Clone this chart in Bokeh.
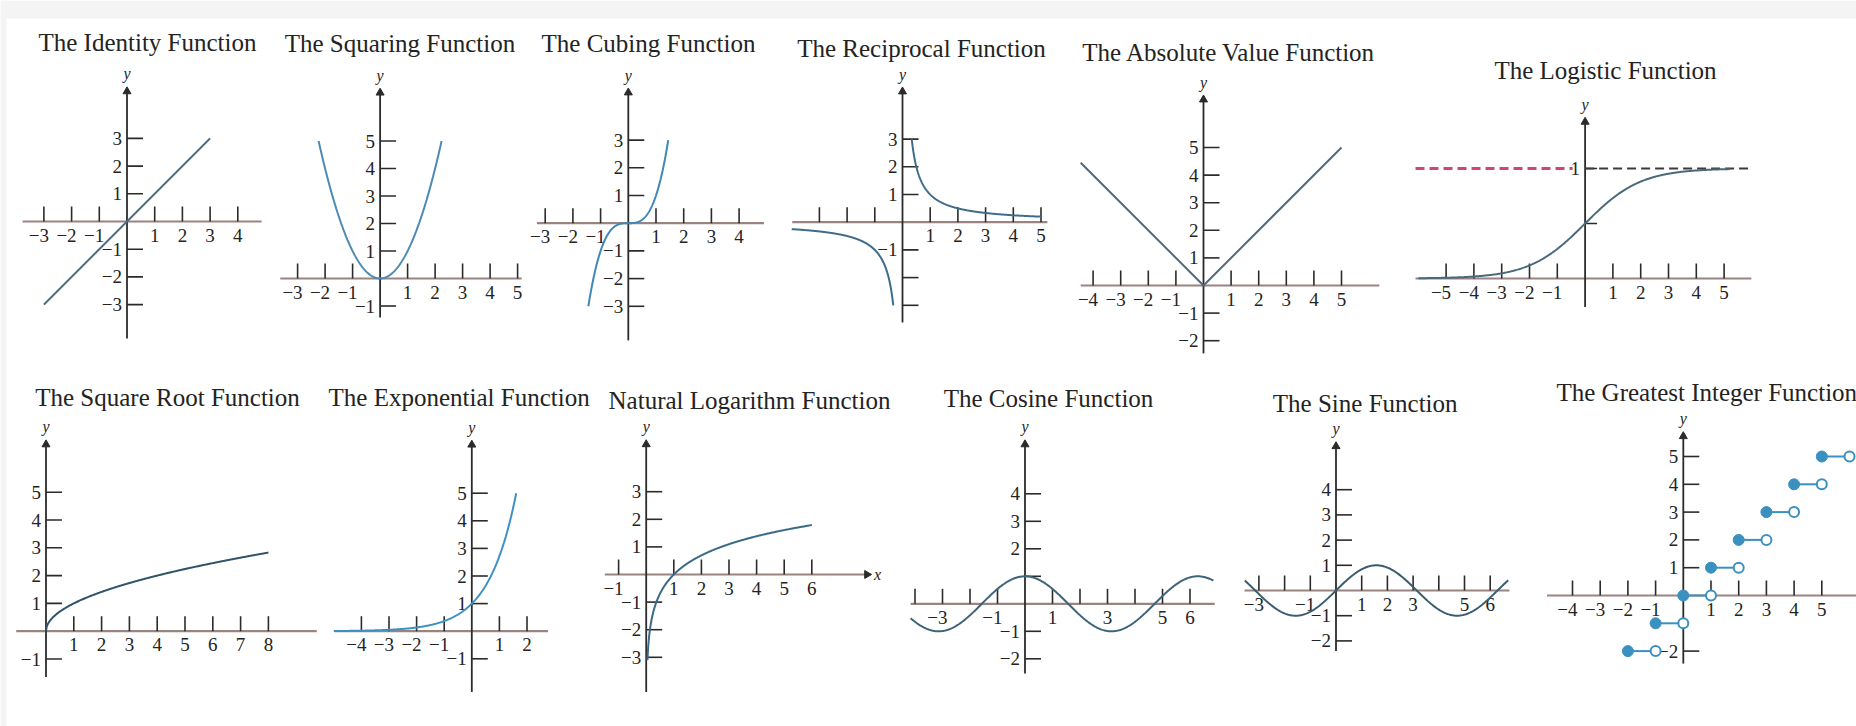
import numpy as np
from bokeh.plotting import figure
from bokeh.models import Range1d, BoxAnnotation
from bokeh.embed import file_html
from bokeh.resources import INLINE
from bokeh.core.properties import value

# ---------------- data ----------------
TITLES = ["The Identity Function", "The Squaring Function", "The Cubing Function",
          "The Reciprocal Function", "The Absolute Value Function", "The Logistic Function",
          "The Square Root Function", "The Exponential Function", "Natural Logarithm Function",
          "The Cosine Function", "The Sine Function", "The Greatest Integer Function"]

CURVE_FUNCS = ["identity", "square", "cube", "reciprocal", "abs", "logistic",
               "sqrt", "exp", "ln", "cos", "sin", "floor"]

# plotted domain of each curve
DOMAINS = [[(-3, 3)], [(-2.236, 2.236)], [(-1.442, 1.442)], [(-4, -0.333), (0.333, 5)],
           [(-4.45, 5.0)], [(-6, 5.2)], [(0, 8)], [(-5, 1.609)], [(0.045, 6)],
           [(-4.16, 6.85)], [(-3.55, 6.7)], [(-2, 5)]]

X_TICKS = [
    [-3, -2, -1, 1, 2, 3, 4],
    [-3, -2, -1, 1, 2, 3, 4, 5],
    [-3, -2, -1, 1, 2, 3, 4],
    [-3, -2, -1, 1, 2, 3, 4, 5],
    [-4, -3, -2, -1, 1, 2, 3, 4, 5],
    [-5, -4, -3, -2, -1, 1, 2, 3, 4, 5],
    [1, 2, 3, 4, 5, 6, 7, 8],
    [-4, -3, -2, -1, 1, 2],
    [-1, 1, 2, 3, 4, 5, 6],
    [-4, -3, -2, -1, 1, 2, 3, 4, 5, 6],
    [-3, -2, -1, 1, 2, 3, 4, 5, 6],
    [-4, -3, -2, -1, 1, 2, 3, 4, 5],
]
X_LABELS = [
    ["−3", "−2", "−1", "1", "2", "3", "4"],
    ["−3", "−2", "−1", "1", "2", "3", "4", "5"],
    ["−3", "−2", "−1", "1", "2", "3", "4"],
    ["", "", "", "1", "2", "3", "4", "5"],
    ["−4", "−3", "−2", "−1", "1", "2", "3", "4", "5"],
    ["−5", "−4", "−3", "−2", "−1", "1", "2", "3", "4", "5"],
    ["1", "2", "3", "4", "5", "6", "7", "8"],
    ["−4", "−3", "−2", "−1", "1", "2"],
    ["−1", "1", "2", "3", "4", "5", "6"],
    ["", "−3", "", "−1", "1", "", "3", "", "5", "6"],
    ["−3", "", "−1", "1", "2", "3", "", "5", "6"],
    ["−4", "−3", "−2", "−1", "1", "2", "3", "4", "5"],
]
Y_TICKS = [
    [-3, -2, -1, 1, 2, 3],
    [-1, 1, 2, 3, 4, 5],
    [-3, -2, -1, 1, 2, 3],
    [-3, -2, -1, 1, 2, 3],
    [-2, -1, 1, 2, 3, 4, 5],
    [0.5, 1],
    [-1, 1, 2, 3, 4, 5],
    [-1, 1, 2, 3, 4, 5],
    [-3, -2, -1, 1, 2, 3],
    [-2, -1, 1, 2, 3, 4],
    [-2, -1, 1, 2, 3, 4],
    [-2, 1, 2, 3, 4, 5],
]
Y_LABELS = [
    ["−3", "−2", "−1", "1", "2", "3"],
    ["−1", "1", "2", "3", "4", "5"],
    ["−3", "−2", "−1", "1", "2", "3"],
    ["", "", "−1", "1", "2", "3"],
    ["−2", "−1", "1", "2", "3", "4", "5"],
    ["", "1"],
    ["−1", "1", "2", "3", "4", "5"],
    ["−1", "1", "2", "3", "4", "5"],
    ["−3", "−2", "−1", "1", "2", "3"],
    ["−2", "−1", "", "2", "3", "4"],
    ["−2", "−1", "1", "2", "3", "4"],
    ["−2", "1", "2", "3", "4", "5"],
]

# greatest integer function steps
STEP_LEVELS = [-2, -1, 0, 1, 2, 3, 4, 5]
# logistic asymptote
ASYMPTOTE = 1

CURVE_COLORS = ["#4f6b7e", "#4d8ab3", "#3f88b8", "#3e6c8a", "#4f6b7e", "#4a6a7c",
                "#2f5469", "#3b90c4", "#3a6a86", "#3f6479", "#3a5d70", "#3a90bf"]

# ---------------- layout (pixel positions in the 1856x726 picture) ----------------
# origin x, origin y, px per x unit, px per y unit
ORIGINS = [(126.5, 221, 27.7, 27.7), (379.6, 278, 27.5, 27.5), (627.8, 222.7, 27.7, 27.7),
           (902, 221.7, 27.7, 27.7), (1203, 285, 27.6, 27.6), (1584.6, 278, 27.8, 110),
           (45.5, 630.7, 27.8, 27.8), (471.3, 630.7, 27.6, 27.6), (645.7, 574, 27.6, 27.6),
           (1024.5, 603.3, 27.5, 27.5), (1335.5, 590, 25.7, 25.2), (1682.8, 595, 27.7, 27.8)]
# x-axis extent, y-axis extent in panel units
X_EXT = [(-3.77, 4.86), (-3.63, 5.15), (-3.3, 4.9), (-3.98, 5.23), (-4.45, 6.37), (-6.1, 5.98),
         (-1.07, 9.74), (-4.97, 2.76), (-1.5, 8.0), (-4.16, 6.9), (-3.56, 6.75), (-4.92, 6.5)]
Y_EXT = [(-4.22, 4.84), (-1.42, 6.9), (-4.23, 4.86), (-3.62, 4.86), (-2.46, 6.88), (-0.26, 1.46),
         (-1.65, 6.86), (-2.2, 6.9), (-4.26, 4.86), (-2.53, 5.94), (-2.4, 5.88), (-2.45, 5.87)]
TITLE_POS = [(147, 42), (399.5, 43), (648, 43), (921, 48), (1228.6, 52), (1605, 70),
             (167, 397), (458.6, 397), (749, 400), (1048, 398), (1364.7, 403), (1556, 392)]
TITLE_ALIGN = ["center"] * 11 + ["left"]

W, H = 1856, 726
OFF = 0
FONT = value("Liberation Serif")
TXT = "#232323"
AX = "#2b2b2b"
XAX = "#9a8481"

p = figure(width=W, height=H, output_backend="svg", toolbar_location=None,
           x_range=Range1d(0, W), y_range=Range1d(H, 0), min_border=0,
           x_axis_type=None, y_axis_type=None)
p.grid.visible = False
p.outline_line_color = None
p.background_fill_color = "white"
p.border_fill_color = "white"
p.add_layout(BoxAnnotation(left=0, right=W, bottom=0, top=18, fill_color="#f4f4f4",
                           fill_alpha=1, line_color=None))
p.add_layout(BoxAnnotation(left=0, right=6, bottom=0, top=H, fill_color="#f4f4f4",
                           fill_alpha=1, line_color=None))


def curve(name, a, b):
    x = np.linspace(a, b, 400)
    if name == "identity":
        y = x
    elif name == "square":
        y = x ** 2
    elif name == "cube":
        y = x ** 3
    elif name == "reciprocal":
        y = 1.0 / x
    elif name == "abs":
        x = np.array([a, 0.0, b]); y = np.abs(x)
    elif name == "logistic":
        y = 1.0 / (1.0 + np.exp(-x))
    elif name == "sqrt":
        y = np.sqrt(x)
    elif name == "exp":
        y = np.exp(x)
    elif name == "ln":
        x = np.geomspace(a, b, 400); y = np.log(x)
    elif name == "cos":
        y = np.cos(x)
    elif name == "sin":
        y = np.sin(x)
    return x, y


for i in range(12):
    ox, oy, ux, uy = ORIGINS[i]
    fx, fy = ox - OFF, oy - OFF
    xr, yr = f"px{i}", f"py{i}"
    p.extra_x_ranges[xr] = Range1d(-fx / ux, (W - fx) / ux)
    p.extra_y_ranges[yr] = Range1d(-(H - fy) / uy, fy / uy)
    kw = dict(x_range_name=xr, y_range_name=yr)
    (xa, xb), (ya, yb) = X_EXT[i], Y_EXT[i]

    # axes
    p.segment(x0=[xa], y0=[0], x1=[xb], y1=[0], line_color=XAX, line_width=2.2, **kw)
    p.segment(x0=[0], y0=[ya], x1=[0], y1=[yb - 6 / uy], line_color=AX, line_width=1.8, **kw)
    p.scatter(x=[0], y=[yb - 4 / uy], marker="triangle", size=8, fill_color=AX,
              line_color=AX, **kw)
    p.text(x=[0], y=[yb], text=["y"], text_align="center", text_baseline="bottom", y_offset=-5,
           text_font=FONT, text_font_style="italic", text_font_size="16px", text_color=TXT, **kw)
    if CURVE_FUNCS[i] == "ln":
        p.scatter(x=[xb], y=[0], marker="triangle", angle=-np.pi / 2, size=8,
                  fill_color=AX, line_color=AX, **kw)
        p.text(x=[xb], y=[0], text=["x"], text_align="left", text_baseline="middle", x_offset=7,
               text_font=FONT, text_font_style="italic", text_font_size="16px",
               text_color=TXT, **kw)

    # x ticks (upwards) and labels
    xt = X_TICKS[i]
    p.segment(x0=xt, y0=[0] * len(xt), x1=xt, y1=[15 / uy] * len(xt),
              line_color=AX, line_width=1.6, **kw)
    neg = [(t, l) for t, l in zip(xt, X_LABELS[i]) if l and t < 0]
    pos = [(t, l) for t, l in zip(xt, X_LABELS[i]) if l and t > 0]
    if neg:
        p.text(x=[t for t, _ in neg], y=[0] * len(neg), text=[l for _, l in neg],
               text_align="right", text_baseline="top", x_offset=5, y_offset=7,
               text_font=FONT, text_font_size="19px", text_color=TXT, **kw)
    if pos:
        p.text(x=[t for t, _ in pos], y=[0] * len(pos), text=[l for _, l in pos],
               text_align="center", text_baseline="top", y_offset=7,
               text_font=FONT, text_font_size="19px", text_color=TXT, **kw)

    # y ticks (to the right) and labels
    yt = Y_TICKS[i]
    tl = 12 if CURVE_FUNCS[i] == "logistic" else 16
    p.segment(x0=[0] * len(yt), y0=yt, x1=[tl / ux] * len(yt), y1=yt,
              line_color=AX, line_width=1.6, **kw)
    yl = [(t, l) for t, l in zip(yt, Y_LABELS[i]) if l]
    p.text(x=[0] * len(yl), y=[t for t, _ in yl], text=[l for _, l in yl],
           text_align="right", text_baseline="middle", x_offset=-5,
           text_font=FONT, text_font_size="19px", text_color=TXT, **kw)

    # curves
    fn = CURVE_FUNCS[i]
    col = CURVE_COLORS[i]
    if fn == "floor":
        lv = STEP_LEVELS
        p.segment(x0=lv, y0=lv, x1=[v + 1 for v in lv], y1=lv, line_color=col,
                  line_width=2, **kw)
        p.scatter(x=lv, y=lv, size=11, fill_color=col, line_color=col, **kw)
        p.scatter(x=[v + 1 for v in lv], y=lv, size=10, fill_color="white",
                  line_color=col, line_width=2, **kw)
    else:
        if fn == "logistic":
            p.line(x=[xa, -0.45], y=[ASYMPTOTE, ASYMPTOTE], line_color="#d2466c",
                   line_width=3, line_dash="9 5", **kw)
            p.line(x=[0, 6], y=[ASYMPTOTE, ASYMPTOTE], line_color="#3a3a3a",
                   line_width=2, line_dash="9 5", **kw)
        for a, b in DOMAINS[i]:
            cx, cy = curve(fn, a, b)
            p.line(x=cx, y=cy, line_color=col, line_width=2, **kw)

    # title
    tx, ty = TITLE_POS[i]
    p.text(x=[tx - OFF], y=[ty - OFF], text=[TITLES[i]], text_align=TITLE_ALIGN[i],
           text_baseline="middle", text_font=FONT, text_font_size="25px", text_color=TXT)

open("out.html", "w").write(file_html(p, INLINE))
